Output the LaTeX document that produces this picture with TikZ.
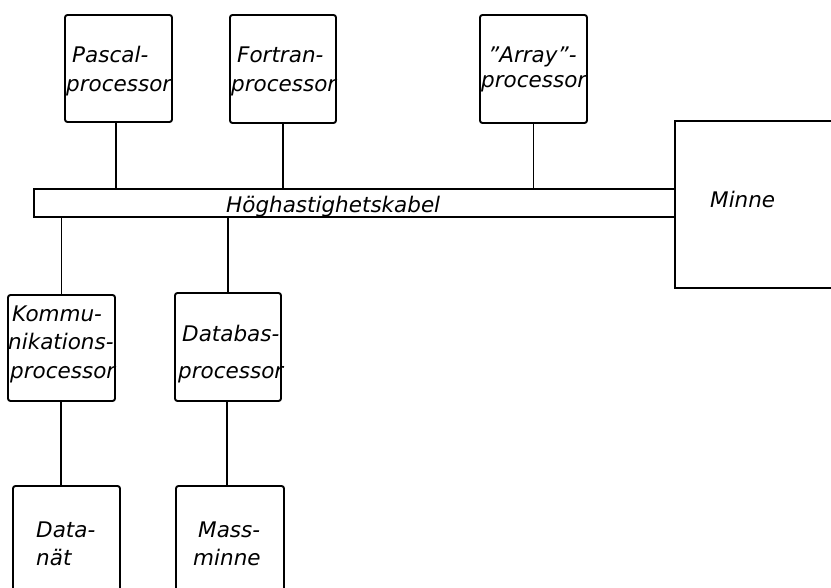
\documentclass[tikz,border=0pt]{standalone}
\usepackage{fontspec}
\setmainfont{DejaVu Sans}
\begin{document}
\begin{tikzpicture}[x=1pt,y=-1pt,
  box/.style={draw, line width=1.9pt, rounded corners=2.5pt, inner sep=0pt},
  lbl/.style={anchor=base west, inner sep=0pt, font=\fontsize{21.5}{28}\selectfont\itshape},
  wire/.style={line width=1.9pt}]
\useasboundingbox (0,0) rectangle (831,588);
\clip (0,0) rectangle (831,588);
% boxes
\node[box, minimum width=107pt, minimum height=107pt] (pascal) at (118.5,68.5) {};
\node[box, minimum width=106pt, minimum height=108pt] (fortran) at (283,69) {};
\node[box, minimum width=107pt, minimum height=108pt] (array) at (533.5,69) {};
\node[draw, line width=1.9pt, inner sep=0pt, minimum width=641pt, minimum height=28pt] (cable) at (354.5,203) {};
\node[draw, line width=1.9pt, inner sep=0pt, minimum width=180pt, minimum height=167pt] (minne) at (765,204.5) {};
\node[box, minimum width=107pt, minimum height=106pt] (kommu) at (61.5,348) {};
\node[box, minimum width=106pt, minimum height=108pt] (databas) at (228,347) {};
\node[box, minimum width=107pt, minimum height=130pt] (datanat) at (66.5,551) {};
\node[box, minimum width=108pt, minimum height=130pt] (mass) at (230,551) {};
% texts
\node[lbl] (t1a) at (72,63) {Pascal-};
\node[lbl] (t1b) at (66,92) {processor};
\node[lbl] (t2a) at (237,63) {Fortran-};
\node[lbl] (t2b) at (231,92) {processor};
\node[lbl] (t3a) at (488,63) {"Array"-};
\node[lbl] (t3b) at (481,88) {processor};
\node[lbl] (t4) at (226,213) {Höghastighetskabel};
\node[lbl] (t5) at (710,208) {Minne};
\node[lbl] (t6a) at (12,322) {Kommu-};
\node[lbl] (t6b) at (8,350) {nikations-};
\node[lbl] (t6c) at (10,378) {processor};
\node[lbl] (t7a) at (182,342) {Databas-};
\node[lbl] (t7b) at (178,378) {processor};
\node[lbl] (t8a) at (36,537) {Data-};
\node[lbl] (t8b) at (36,565) {nät};
\node[lbl] (t9a) at (198,537) {Mass-};
\node[lbl] (t9b) at (193,565) {minne};
% connectors
\draw[wire] ([xshift=-2.5pt]pascal.south) -- ([xshift=-2.5pt]pascal.south |- cable.north);
\draw[wire] (fortran.south) -- (fortran.south |- cable.north);
\draw[wire] (array.south) -- (array.south |- cable.north);
\draw[wire] (kommu.north |- cable.south) -- (kommu.north);
\draw[wire] (databas.north |- cable.south) -- (databas.north);
\draw[wire] ([xshift=-5.5pt]datanat.north) -- ([xshift=-5.5pt]datanat.north |- kommu.south);
\draw[wire] ([xshift=-3pt]mass.north) -- ([xshift=-3pt]mass.north |- databas.south);
\end{tikzpicture}
\end{document}
